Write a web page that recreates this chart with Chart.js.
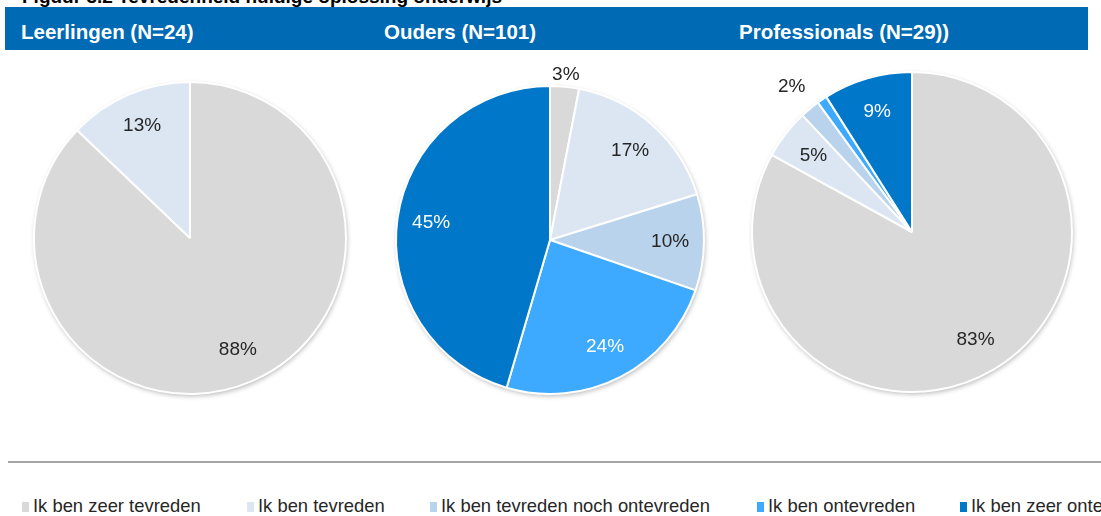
<!DOCTYPE html>
<html>
<head>
<meta charset="utf-8">
<script src="https://cdn.jsdelivr.net/npm/chart.js@4"></script>
<style>
  body { margin: 0; width: 1101px; height: 516px; overflow: hidden; background: #fff; font-family: Arial, "Liberation Sans", sans-serif; position: relative; }
  #caption { position: absolute; left: 22px; top: -13px; font-size: 19px; line-height: 19px; font-weight: bold; color: #000; white-space: nowrap; }
  #bar { position: absolute; left: 5px; top: 7px; width: 1083px; height: 43px; background: #006AB4; }
  .grp { position: absolute; top: 3px; line-height: 43px; color: #fff; font-size: 20.5px; font-weight: bold; white-space: nowrap; }
  .pie { position: absolute; }
  #rule { position: absolute; left: 8px; top: 461px; width: 1093px; height: 2px; background: #A6A6A6; }
  .leg { position: absolute; top: 495px; font-size: 18.4px; line-height: 22px; color: #262626; white-space: nowrap; }
  .leg i { display: inline-block; width: 7px; height: 10px; margin-right: 4px; vertical-align: 0px; }
</style>
</head>
<body>
<div id="caption">Figuur 3.2 Tevredenheid huidige oplossing onderwijs</div>
<div id="bar"></div>
<div class="pie" style="left:20px;top:68px;width:340px;height:340px"><canvas id="c0"></canvas></div>
<div class="pie" style="left:368px;top:58px;width:364px;height:364px"><canvas id="c1"></canvas></div>
<div class="pie" style="left:742px;top:62px;width:340px;height:340px"><canvas id="c2"></canvas></div>
<div id="rule"></div>
<script>
// answer categories (legend order)
const categories = [
  'Ik ben zeer tevreden',
  'Ik ben tevreden',
  'Ik ben tevreden noch ontevreden',
  'Ik ben ontevreden',
  'Ik ben zeer ontevreden'
];
const groups = ['Leerlingen (N=24)', 'Ouders (N=101)', 'Professionals (N=29))'];

// percentages per group, same order as categories
const leerlingen = [88, 13, 0, 0, 0];
const ouders = [3, 17, 10, 24, 45];
const professionals = [83, 5, 2, 1, 9];

const colors = ['#D9D9D9', '#DCE6F2', '#B9D3EC', '#3DAAFF', '#0077C8'];
const labelColors = ['#262626', '#262626', '#262626', '#ffffff', '#ffffff'];

// header texts
const groupX = [16, 379, 734];
const bar = document.getElementById('bar');
groups.forEach((g, i) => {
  const s = document.createElement('div');
  s.className = 'grp';
  s.style.left = groupX[i] + 'px';
  s.textContent = g;
  bar.appendChild(s);
});

// legend
const legendX = [22, 247, 430, 757, 960];
categories.forEach((c, i) => {
  const d = document.createElement('div');
  d.className = 'leg';
  d.style.left = legendX[i] + 'px';
  d.innerHTML = '<i style="background:' + colors[i] + '"></i>' + c;
  document.body.appendChild(d);
});

// soft shadow under the pie
const pieShadow = {
  id: 'pieShadow',
  beforeDatasetsDraw(chart) {
    const arc = chart.getDatasetMeta(0).data[0];
    const ctx = chart.ctx;
    ctx.save();
    ctx.shadowColor = 'rgba(0,0,0,0.3)';
    ctx.shadowBlur = 5;
    ctx.shadowOffsetX = 1;
    ctx.shadowOffsetY = 2;
    ctx.fillStyle = '#fff';
    ctx.beginPath();
    ctx.arc(arc.x, arc.y, arc.outerRadius, 0, Math.PI * 2);
    ctx.fill();
    ctx.restore();
  }
};

// percentage labels on the slices
const pctLabels = {
  id: 'pctLabels',
  afterDatasetsDraw(chart, args, opts) {
    const ctx = chart.ctx;
    const values = chart.data.datasets[0].data;
    ctx.save();
    ctx.font = '19px Arial, "Liberation Sans", sans-serif';
    ctx.textAlign = 'center';
    ctx.textBaseline = 'middle';
    chart.getDatasetMeta(0).data.forEach((arc, i) => {
      const v = values[i];
      if (v < 2) return;
      const mid = (arc.startAngle + arc.endAngle) / 2;
      const outside = v < 4;
      const r = arc.outerRadius * (outside ? opts.outer : 0.78);
      ctx.fillStyle = outside ? '#262626' : labelColors[i];
      ctx.fillText(v + '%', arc.x + Math.cos(mid) * r, arc.y + Math.sin(mid) * r);
    });
    ctx.restore();
  }
};

function makePie(id, values, pad, outer) {
  new Chart(document.getElementById(id), {
    type: 'pie',
    data: {
      labels: categories,
      datasets: [{
        data: values,
        backgroundColor: colors,
        borderColor: '#ffffff',
        borderWidth: 2
      }]
    },
    options: {
      responsive: true,
      maintainAspectRatio: false,
      animation: false,
      layout: { padding: pad },
      plugins: {
        legend: { display: false },
        tooltip: { enabled: false },
        pctLabels: { outer: outer }
      }
    },
    plugins: [pieShadow, pctLabels]
  });
}

makePie('c0', leerlingen, 13, 1.1);
makePie('c1', ouders, 27, 1.08);
makePie('c2', professionals, 9, 1.18);
</script>
</body>
</html>
